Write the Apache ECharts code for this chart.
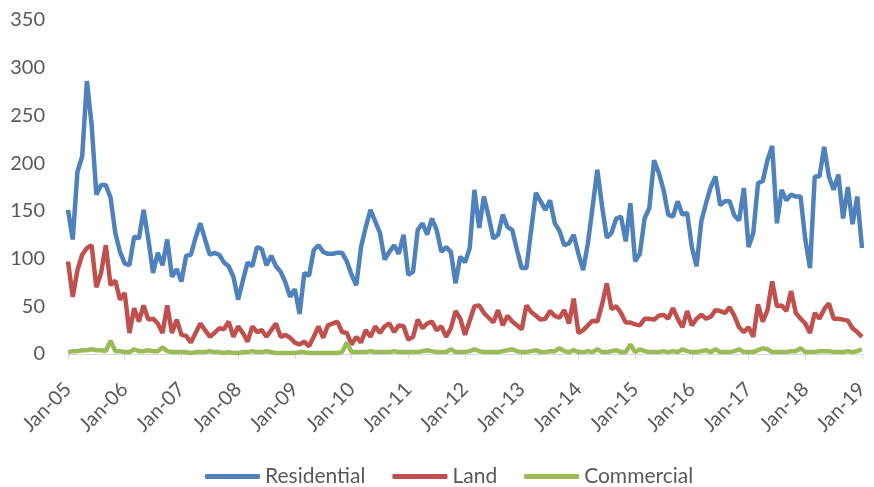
<!DOCTYPE html>
<html>
<head>
<meta charset="utf-8">
<script src="https://cdn.jsdelivr.net/npm/echarts@6/dist/echarts.min.js"></script>
<style>
html,body{margin:0;padding:0;background:#fff;}
#chart{width:874px;height:487px;}
</style>
</head>
<body>
<div id="chart"></div>
<script>
var monthNames = ['Jan','Feb','Mar','Apr','May','Jun','Jul','Aug','Sep','Oct','Nov','Dec'];
var yearLabels = ['05','06','07','08','09','10','11','12','13','14','15','16','17','18','19'];
var categories = [];
yearLabels.forEach(function (y, yi) {
  monthNames.forEach(function (m, mi) {
    if (yi < yearLabels.length - 1 || mi === 0) categories.push(m + '-' + y);
  });
});

var residential = [
151,120,191,207,286,240,167,177,177,164,127,107,
95,93,123,121,151,120,85,106,93,120,81,89,
76,103,104,122,137,120,104,106,104,96,92,81,
57,77,96,92,112,110,93,103,92,86,75,60,
68,42,85,82,109,114,107,105,105,106,106,97,
83,72,112,133,151,139,127,99,107,114,105,125,
83,86,130,137,125,142,130,107,112,107,74,102,
96,111,172,132,165,144,121,125,146,133,130,109,
90,90,130,169,160,151,161,137,129,114,116,125,
105,88,116,154,193,155,122,127,142,144,118,158,
97,105,142,153,203,190,172,146,144,160,146,148,
112,92,139,158,175,186,156,160,160,145,140,174,
112,127,179,181,203,218,137,172,161,167,165,165,
120,90,186,186,217,186,172,188,142,175,136,165,
111];

var land = [
97,60,88,104,111,114,70,85,114,72,77,57,
64,22,48,34,51,36,37,32,22,51,22,36,
20,19,12,22,32,25,18,22,27,26,34,18,
29,22,13,29,23,25,18,25,32,18,20,17,
12,10,13,8,18,29,17,30,32,34,23,22,
10,18,12,25,18,29,22,29,32,23,30,29,
15,18,36,27,32,34,25,29,18,27,45,37,
20,35,50,51,43,38,33,46,30,40,34,30,
26,51,44,40,36,37,45,40,38,46,32,58,
22,25,30,35,34,52,74,47,50,43,33,33,
31,30,37,37,36,40,41,37,48,37,28,45,
30,37,41,37,39,46,45,43,49,40,28,23,
28,18,52,34,46,76,50,51,45,66,43,37,
32,22,43,37,47,53,37,37,36,35,27,23,
18];

var commercial = [
2,3,3,4,4,5,4,4,3,14,3,3,
2,2,5,3,3,4,3,3,7,3,2,2,
2,2,1,2,2,2,3,2,2,1,2,1,
1,2,2,3,2,2,3,2,1,1,1,1,
1,2,2,1,1,1,1,1,1,1,2,12,
2,2,2,2,3,2,2,2,2,3,2,2,
2,2,2,3,4,3,2,2,2,5,2,2,
2,3,5,3,2,2,2,2,3,4,5,3,
2,2,3,4,2,2,3,3,6,3,2,4,
2,2,3,2,5,2,2,3,4,2,2,10,
2,5,3,2,2,2,3,2,3,2,5,3,
2,2,3,4,2,5,2,2,2,3,5,2,
2,2,4,6,5,2,2,2,2,3,3,6,
2,2,2,3,3,3,2,2,2,3,2,3,
5];

var seriesNames = ['Residential','Land','Commercial'];
var seriesColors = ['#4f81bd','#c0504d','#9bbb59'];
var yTicks = {min:0, max:350, interval:50};

var textColor = '#595959';
var fontFam = 'Lato, "Open Sans", "Liberation Sans", sans-serif';

var chart = echarts.init(document.getElementById('chart'));
chart.setOption({
  animation: false,
  color: seriesColors,
  grid: {left: 68, right: 12, top: 20, bottom: 133, containLabel: false},
  legend: {
    data: seriesNames,
    top: 461,
    left: 200,
    icon: 'roundRect',
    itemWidth: 55,
    itemHeight: 5,
    itemGap: 27,
    textStyle: {color: textColor, fontSize: 21, fontFamily: fontFam}
  },
  xAxis: {
    type: 'category',
    data: categories,
    boundaryGap: false,
    axisLine: {lineStyle: {color: '#d9d9d9', width: 1}},
    axisTick: {interval: 11, length: 5, lineStyle: {color: '#d9d9d9'}},
    axisLabel: {interval: 11, rotate: 45, color: textColor, fontSize: 20, fontFamily: fontFam, margin: 32},
    splitLine: {show: false}
  },
  yAxis: {
    type: 'value',
    min: yTicks.min, max: yTicks.max, interval: yTicks.interval,
    axisLine: {show: false},
    axisTick: {show: false},
    splitLine: {show: false},
    axisLabel: {color: textColor, fontSize: 20, fontFamily: fontFam, margin: 23}
  },
  series: [
    {name: seriesNames[0], type: 'line', data: residential, symbol: 'none', lineStyle: {width: 4.5}},
    {name: seriesNames[1], type: 'line', data: land, symbol: 'none', lineStyle: {width: 4.5}},
    {name: seriesNames[2], type: 'line', data: commercial, symbol: 'none', lineStyle: {width: 4.5}}
  ]
});
</script>
</body>
</html>
